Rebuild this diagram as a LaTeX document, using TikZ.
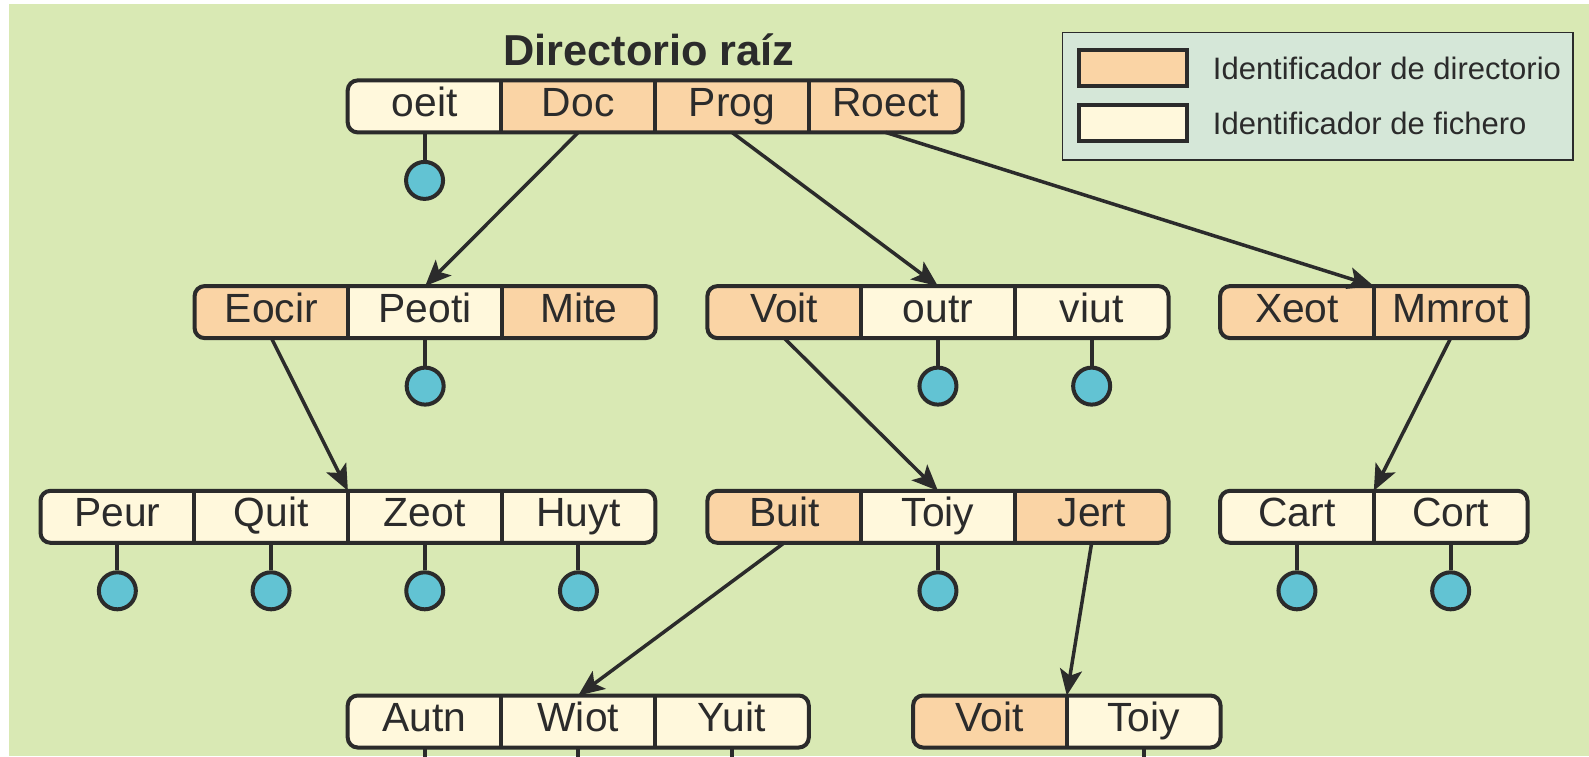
\documentclass[tikz,border=0pt]{standalone}
\usepackage{fontspec}
\setmainfont{Liberation Sans}
\usetikzlibrary{arrows.meta}
\definecolor{bggreen}{RGB}{217,233,180}
\definecolor{legfill}{RGB}{213,231,216}
\definecolor{dirfill}{RGB}{250,212,165}
\definecolor{filefill}{RGB}{255,248,220}
\definecolor{ballfill}{RGB}{98,195,211}
\definecolor{ink}{RGB}{43,43,43}
\newcommand{\cellfont}{\fontsize{40.8}{44}\selectfont}
\newcommand{\titlefont}{\fontsize{43.3}{48}\selectfont\bfseries}
\newcommand{\legfont}{\fontsize{31}{36}\selectfont}
\tikzset{
  cell/.style={rectangle, minimum width=153.7pt, minimum height=52pt, inner sep=0pt, outer sep=0pt,
    anchor=west, font=\cellfont, text height=29.2pt, text depth=9.2pt, text=ink},
  dircell/.style={cell, fill=dirfill},
  filecell/.style={cell, fill=filefill},
  frame/.style={draw=ink, line width=4pt, rounded corners=10pt},
  divider/.style={draw=ink, line width=4pt},
  ball/.style={circle, draw=ink, fill=ballfill, line width=4pt, minimum size=37pt, inner sep=0pt},
  stem/.style={draw=ink, line width=4pt},
  link/.style={draw=ink, line width=3.5pt, -{Stealth[length=26pt,width=22pt,inset=6pt]}},
  swatch/.style={rectangle, draw=ink, line width=4pt, minimum width=108.6pt, minimum height=35.4pt, inner sep=0pt},
  legtext/.style={anchor=base west, font=\legfont, text=ink, inner sep=0pt},
}
\begin{document}
\begin{tikzpicture}[x=1pt,y=1pt]
\useasboundingbox (0,0) rectangle (1589,-756);
\clip (0,0) rectangle (1589,-756);
\fill[bggreen] (9,-4) rectangle (1589,-756);

% title
\node[font=\titlefont, anchor=base, text=ink, inner sep=0pt] (title) at (649,-65) {Directorio raíz};

% legend
\node[draw=ink, line width=1.5pt, fill=legfill, minimum width=510.7pt, minimum height=127.4pt, inner sep=0pt, anchor=north west] (legend) at (1061.5,-31.8) {};
\node[swatch, fill=dirfill] (sw1) at (1133,-68) {};
\node[swatch, fill=filefill] (sw2) at (1133,-123) {};
\node[legtext] (lt1) at (1212.7,-79.8) {Identificador de directorio};
\node[legtext] (lt2) at (1212.7,-134.8) {Identificador de fichero};

% ---------- row 1
\begin{scope}
\clip[rounded corners=10pt] (347.7,-80.4) rectangle (962.5,-132.4);
\node[filecell] (r1a) at (347.7,-106.4) {oeit};
\node[dircell] (r1b) at (r1a.east) {Doc};
\node[dircell] (r1c) at (r1b.east) {Prog};
\node[dircell] (r1d) at (r1c.east) {Roect};
\end{scope}
\draw[frame] (r1a.north west) rectangle (r1d.south east);
\foreach \n in {r1a,r1b,r1c} \draw[divider] (\n.north east) -- (\n.south east);

% ---------- row 2
\begin{scope}
\clip[rounded corners=10pt] (194.6,-286.1) rectangle (655.7,-338.1);
\node[dircell] (r2a) at (194.6,-312.1) {Eocir};
\node[filecell] (r2b) at (r2a.east) {Peoti};
\node[dircell] (r2c) at (r2b.east) {Mite};
\end{scope}
\draw[frame] (r2a.north west) rectangle (r2c.south east);
\foreach \n in {r2a,r2b} \draw[divider] (\n.north east) -- (\n.south east);

\begin{scope}
\clip[rounded corners=10pt] (707.4,-286.1) rectangle (1168.5,-338.1);
\node[dircell] (r2d) at (707.4,-312.1) {Voit};
\node[filecell] (r2e) at (r2d.east) {outr};
\node[filecell] (r2f) at (r2e.east) {viut};
\end{scope}
\draw[frame] (r2d.north west) rectangle (r2f.south east);
\foreach \n in {r2d,r2e} \draw[divider] (\n.north east) -- (\n.south east);

\begin{scope}
\clip[rounded corners=10pt] (1220.1,-286.1) rectangle (1527.5,-338.1);
\node[dircell] (r2g) at (1220.1,-312.1) {Xeot};
\node[dircell] (r2h) at (r2g.east) {Mmrot};
\end{scope}
\draw[frame] (r2g.north west) rectangle (r2h.south east);
\draw[divider] (r2g.north east) -- (r2g.south east);

% ---------- row 3
\begin{scope}
\clip[rounded corners=10pt] (40.5,-490.8) rectangle (655.3,-542.8);
\node[filecell] (r3a) at (40.5,-516.8) {Peur};
\node[filecell] (r3b) at (r3a.east) {Quit};
\node[filecell] (r3c) at (r3b.east) {Zeot};
\node[filecell] (r3d) at (r3c.east) {Huyt};
\end{scope}
\draw[frame] (r3a.north west) rectangle (r3d.south east);
\foreach \n in {r3a,r3b,r3c} \draw[divider] (\n.north east) -- (\n.south east);

\begin{scope}
\clip[rounded corners=10pt] (707.4,-490.8) rectangle (1168.5,-542.8);
\node[dircell] (r3e) at (707.4,-516.8) {Buit};
\node[filecell] (r3f) at (r3e.east) {Toiy};
\node[dircell] (r3g) at (r3f.east) {Jert};
\end{scope}
\draw[frame] (r3e.north west) rectangle (r3g.south east);
\foreach \n in {r3e,r3f} \draw[divider] (\n.north east) -- (\n.south east);

\begin{scope}
\clip[rounded corners=10pt] (1220.1,-490.8) rectangle (1527.5,-542.8);
\node[filecell] (r3h) at (1220.1,-516.8) {Cart};
\node[filecell] (r3i) at (r3h.east) {Cort};
\end{scope}
\draw[frame] (r3h.north west) rectangle (r3i.south east);
\draw[divider] (r3h.north east) -- (r3h.south east);

% ---------- row 4
\begin{scope}
\clip[rounded corners=10pt] (347.7,-695.5) rectangle (808.8,-747.5);
\node[filecell] (r4a) at (347.7,-721.5) {Autn};
\node[filecell] (r4b) at (r4a.east) {Wiot};
\node[filecell] (r4c) at (r4b.east) {Yuit};
\end{scope}
\draw[frame] (r4a.north west) rectangle (r4c.south east);
\foreach \n in {r4a,r4b} \draw[divider] (\n.north east) -- (\n.south east);

\begin{scope}
\clip[rounded corners=10pt] (913.1,-695.5) rectangle (1220.5,-747.5);
\node[dircell] (r4d) at (913.1,-721.5) {Voit};
\node[filecell] (r4e) at (r4d.east) {Toiy};
\end{scope}
\draw[frame] (r4d.north west) rectangle (r4e.south east);
\draw[divider] (r4d.north east) -- (r4d.south east);

% ---------- file balls
\foreach \n in {r1a,r2b,r2e,r2f,r3a,r3b,r3c,r3d,r3f,r3h,r3i,r4a,r4b,r4c,r4e}{
  \node[ball] (b\n) at ([yshift=-48pt]\n.south) {};
  \draw[stem] (\n.south) -- (b\n.north);
}

% ---------- links
\draw[link] (r1b.south) -- (r2b.north);
\draw[link] (r1c.south) -- (r2e.north);
\draw[link] (r1d.south) -- (r2g.north east);
\draw[link] (r2a.south) -- (r3b.north east);
\draw[link] (r2d.south) -- (r3f.north);
\draw[link] (r2h.south) -- (r3h.north east);
\draw[link] (r3e.south) -- (r4b.north);
\draw[link] (r3g.south) -- (r4d.north east);
\end{tikzpicture}
\end{document}
